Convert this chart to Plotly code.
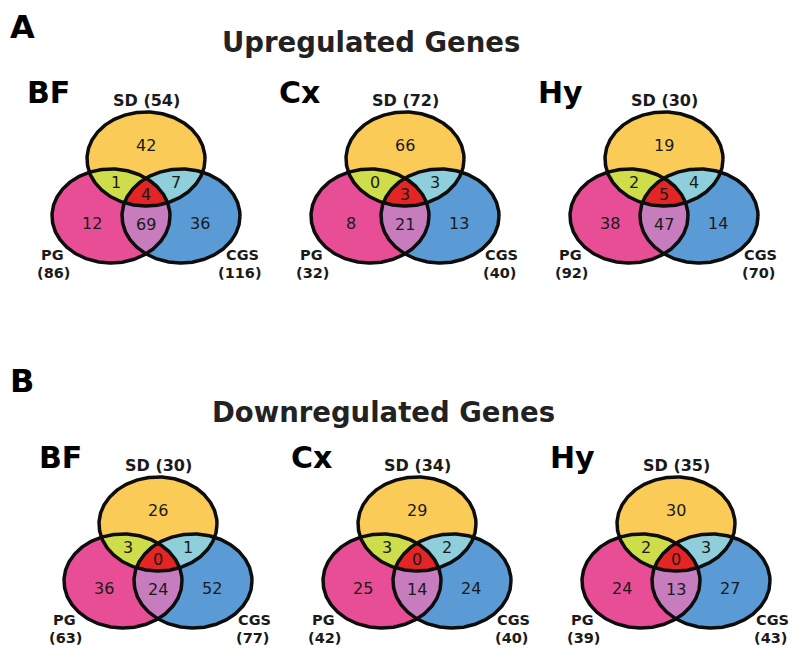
import numpy as np
import plotly.graph_objects as go

# ---------------- data ----------------
tissues = ["BF", "Cx", "Hy"]
set_names = ["SD", "PG", "CGS"]

up_sd_total = [54, 72, 30]
up_pg_total = [86, 32, 92]
up_cgs_total = [116, 40, 70]
# region order: SD only, PG only, CGS only, SD&PG, SD&CGS, PG&CGS, all three
up_bf = [42, 12, 36, 1, 7, 69, 4]
up_cx = [66, 8, 13, 0, 3, 21, 3]
up_hy = [19, 38, 14, 2, 4, 47, 5]

down_sd_total = [30, 34, 35]
down_pg_total = [63, 42, 39]
down_cgs_total = [77, 40, 43]
down_bf = [26, 36, 52, 3, 1, 24, 0]
down_cx = [29, 25, 24, 3, 2, 14, 0]
down_hy = [30, 24, 27, 2, 3, 13, 0]

section_letters = ["A", "B"]
section_titles = ["Upregulated Genes", "Downregulated Genes"]

# ---------------- layout constants ----------------
W, H = 800, 653
PAGE_MARGIN = 8          # default <body> margin of the written page
RX, RY = 59, 47          # ellipse radii (px)
DX, DY = 35, 57          # offsets of PG / CGS centres from SD centre
row_cy = [159, 524]      # SD centre y per row
row_cx = [[146, 405, 664], [158, 417, 676]]
title_dx = [-120, -127, -127]

COL = dict(SD="#FBCB57", PG="#E84E95", CGS="#5B9BD5",
           SD_PG="#CEDD4A", SD_CGS="#8ECFDB", PG_CGS="#C67CBD", ALL="#E42526")
FONT = "DejaVu Sans, Liberation Sans, Arial, sans-serif"


def ellipse(cx, cy, rx, ry, n=360):
    t = np.linspace(0, 2 * np.pi, n, endpoint=False)
    return list(zip(cx + rx * np.cos(t), cy + ry * np.sin(t)))


def clip(subject, clipper):
    # Sutherland-Hodgman clipping against a convex polygon
    area = sum(clipper[i][0] * clipper[(i + 1) % len(clipper)][1]
               - clipper[(i + 1) % len(clipper)][0] * clipper[i][1]
               for i in range(len(clipper)))
    s = 1 if area > 0 else -1

    def inside(p, a, b):
        return s * ((b[0] - a[0]) * (p[1] - a[1]) - (b[1] - a[1]) * (p[0] - a[0])) >= 0

    def inter(p1, p2, a, b):
        x1, y1 = p1; x2, y2 = p2; x3, y3 = a; x4, y4 = b
        d = (x1 - x2) * (y3 - y4) - (y1 - y2) * (x3 - x4)
        if d == 0:
            return p2
        t = ((x1 - x3) * (y3 - y4) - (y1 - y3) * (x3 - x4)) / d
        return (x1 + t * (x2 - x1), y1 + t * (y2 - y1))

    out = subject
    for i in range(len(clipper)):
        a, b = clipper[i], clipper[(i + 1) % len(clipper)]
        inp = out
        out = []
        if not inp:
            break
        prev = inp[-1]
        for cur in inp:
            if inside(cur, a, b):
                if not inside(prev, a, b):
                    out.append(inter(prev, cur, a, b))
                out.append(cur)
            elif inside(prev, a, b):
                out.append(inter(prev, cur, a, b))
            prev = cur
    return out


fig = go.Figure()
annotations = []


def add_text(x, y, text, size, bold=False, xanchor="center", color="#1a1a1a"):
    annotations.append(dict(x=x, y=y, xref="x", yref="y", text=text, showarrow=False,
                            xanchor=xanchor, yanchor="middle", borderpad=0,
                            font=dict(family=FONT, size=size, color=color,
                                      weight="bold" if bold else "normal")))


def poly_trace(poly, color):
    xs = [p[0] for p in poly] + [poly[0][0]]
    ys = [p[1] for p in poly] + [poly[0][1]]
    fig.add_trace(go.Scatter(x=xs, y=ys, mode="lines", fill="toself", fillcolor=color,
                             line=dict(width=0, color=color), hoverinfo="skip",
                             showlegend=False))


def venn(cx, cy, counts, totals, name, tdx):
    centres = {"SD": (cx, cy), "PG": (cx - DX, cy + DY), "CGS": (cx + DX, cy + DY)}
    E = {k: ellipse(*centres[k], RX, RY) for k in centres}
    for k in ["SD", "PG", "CGS"]:
        poly_trace(E[k], COL[k])
    poly_trace(clip(E["SD"], E["PG"]), COL["SD_PG"])
    poly_trace(clip(E["SD"], E["CGS"]), COL["SD_CGS"])
    poly_trace(clip(E["PG"], E["CGS"]), COL["PG_CGS"])
    poly_trace(clip(clip(E["SD"], E["PG"]), E["CGS"]), COL["ALL"])
    for k in ["SD", "PG", "CGS"]:
        pts = E[k] + [E[k][0]]
        fig.add_trace(go.Scatter(x=[p[0] for p in pts], y=[p[1] for p in pts], mode="lines",
                                 line=dict(width=3.5, color="#0d0d0d"), hoverinfo="skip",
                                 showlegend=False))
    # region centroids by grid sampling
    gx, gy = np.meshgrid(np.arange(cx - DX - RX, cx + DX + RX, 0.5),
                         np.arange(cy - RY, cy + DY + RY, 0.5))

    def ins(k):
        ex, ey = centres[k]
        return ((gx - ex) / RX) ** 2 + ((gy - ey) / RY) ** 2 <= 1

    a, b, c = ins("SD"), ins("PG"), ins("CGS")
    masks = [a & ~b & ~c, b & ~a & ~c, c & ~a & ~b, a & b & ~c, a & c & ~b, b & c & ~a, a & b & c]
    for m, v in zip(masks, counts):
        add_text(gx[m].mean(), gy[m].mean(), str(v), 16)
    # set labels
    add_text(cx, cy - RY - 12, f"{set_names[0]} ({totals[0]})", 16, bold=True)
    add_text(cx - DX - 59, cy + DY + 39, set_names[1], 14.5, bold=True)
    add_text(cx - DX - 58, cy + DY + 56.5, f"({totals[1]})", 14.5, bold=True)
    add_text(cx + DX + 61, cy + DY + 39, set_names[2], 14.5, bold=True)
    add_text(cx + DX + 59, cy + DY + 56.5, f"({totals[2]})", 14.5, bold=True)
    add_text(cx + tdx, cy - 67, name, 30, bold=True, xanchor="left", color="#000")


up_counts = [up_bf, up_cx, up_hy]
up_totals = list(zip(up_sd_total, up_pg_total, up_cgs_total))
down_counts = [down_bf, down_cx, down_hy]
down_totals = list(zip(down_sd_total, down_pg_total, down_cgs_total))

for r, (cnts, tots) in enumerate([(up_counts, up_totals), (down_counts, down_totals)]):
    for i in range(3):
        venn(row_cx[r][i], row_cy[r], cnts[i], tots[i], tissues[i], title_dx[i])

add_text(9, 27, section_letters[0], 32, bold=True, xanchor="left", color="#000")
add_text(9, 381, section_letters[1], 32, bold=True, xanchor="left", color="#000")
add_text(371, 42, section_titles[0], 27.5, bold=True, color="#222")
add_text(383, 412, section_titles[1], 27.5, bold=True, color="#222")

fig.update_layout(width=W - PAGE_MARGIN, height=H - PAGE_MARGIN,
                  margin=dict(l=0, r=0, t=0, b=0),
                  paper_bgcolor="white", plot_bgcolor="white",
                  annotations=annotations,
                  xaxis=dict(range=[PAGE_MARGIN, W], visible=False, fixedrange=True),
                  yaxis=dict(range=[H, PAGE_MARGIN], visible=False, fixedrange=True))
fig.write_html("out.html")
